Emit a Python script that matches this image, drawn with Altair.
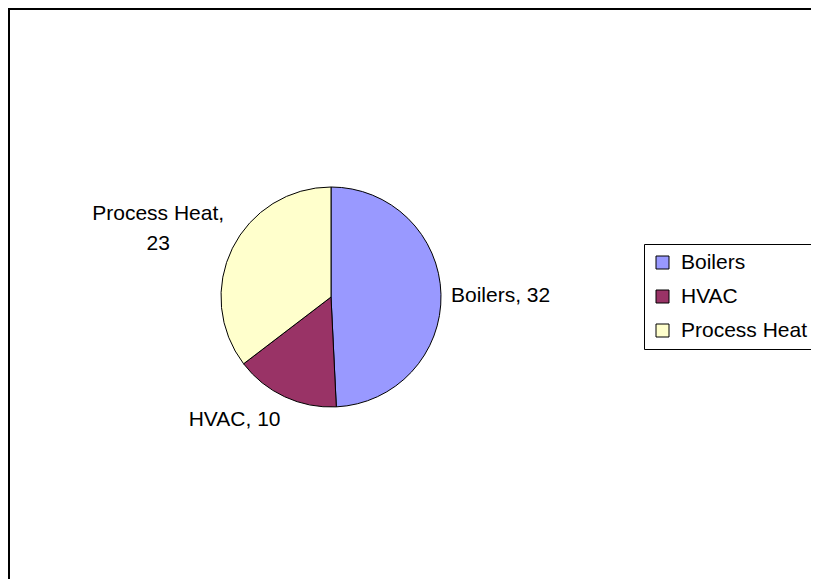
import altair as alt
import pandas as pd

categories = ["Boilers", "HVAC", "Process Heat"]
values = [32, 10, 23]
colors = ["#9999FF", "#993366", "#FFFFCC"]

labels = []
for c, v in zip(categories, values):
    sep = ",\n" if " " in c else ", "
    labels.append(f"{c}{sep}{v}")

df = pd.DataFrame({
    "category": categories,
    "value": values,
    "idx": list(range(len(categories))),
    "label": labels,
})

FONT = "Liberation Sans"
W, H = 803, 571
CX, CY = 323, 289

base = alt.Chart(df).encode(
    theta=alt.Theta("value:Q", stack=True),
    order=alt.Order("idx:Q"),
)

pie = base.mark_arc(radius=110, stroke="black", strokeWidth=1).encode(
    color=alt.Color(
        "category:N",
        scale=alt.Scale(domain=categories, range=colors),
        sort=categories,
        legend=alt.Legend(
            title=None,
            orient="none",
            legendX=636,
            legendY=236,
            symbolType="square",
            symbolSize=169,
            symbolStrokeColor="black",
            symbolStrokeWidth=1,
            labelFont=FONT,
            labelFontSize=21,
            labelColor="black",
            labelOffset=8,
            labelLimit=0,
            strokeColor="black",
            fillColor="white",
            padding=8,
            rowPadding=12,
        ),
    ),
    x=alt.value(CX),
    y=alt.value(CY),
)


def label_layer(cat, radius, align, dx, dy):
    return base.mark_text(
        radius=radius, align=align, baseline="middle", dx=dx, dy=dy,
        font=FONT, fontSize=21, color="black", lineBreak="\n", lineHeight=30,
    ).encode(
        text=alt.condition(alt.datum.category == cat, alt.Text("label:N"), alt.value("")),
        detail="category:N",
        x=alt.value(CX),
        y=alt.value(CY),
    )


lab_b = label_layer("Boilers", 120, "left", 0, 2)
lab_h = label_layer("HVAC", 134, "right", 6, 1)
lab_p = label_layer("Process Heat", 156, "center", -33, -14)

frame_top = alt.Chart(df).mark_rule(color="black", strokeWidth=2).encode(
    x=alt.value(0), x2=alt.value(W + 20), y=alt.value(1)
)
frame_left = alt.Chart(df).mark_rule(color="black", strokeWidth=2).encode(
    x=alt.value(1), y=alt.value(0), y2=alt.value(H + 20)
)

chart = alt.layer(frame_top, frame_left, pie, lab_b, lab_h, lab_p).properties(
    width=W, height=H, padding=0, autosize="none"
).configure_view(stroke=None)

chart.save("out.html", embed_options={"renderer": "svg", "actions": False})
